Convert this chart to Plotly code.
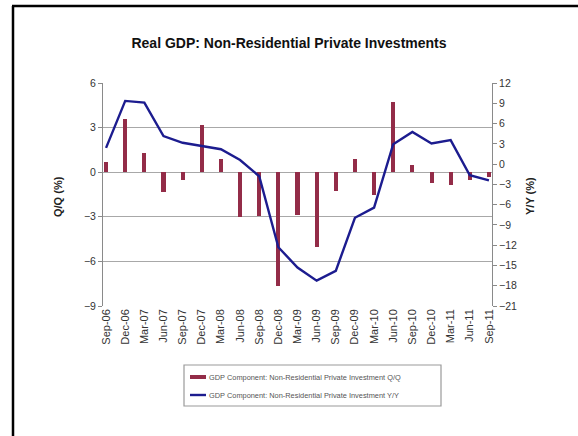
import plotly.graph_objects as go

# Quarter labels
quarters = ["Sep-06", "Dec-06", "Mar-07", "Jun-07", "Sep-07", "Dec-07", "Mar-08",
            "Jun-08", "Sep-08", "Dec-08", "Mar-09", "Jun-09", "Sep-09", "Dec-09",
            "Mar-10", "Jun-10", "Sep-10", "Dec-10", "Mar-11", "Jun-11", "Sep-11"]

# Quarter-on-quarter change (%), left axis
qoq = [0.7, 3.6, 1.3, -1.3, -0.5, 3.2, 0.9, -3.0, -2.95, -7.65, -2.9, -5.05,
       -1.25, 0.9, -1.5, 4.75, 0.5, -0.7, -0.85, -0.55, -0.35]

# Year-on-year change (%), right axis
yoy = [2.4, 9.35, 9.1, 4.15, 3.15, 2.65, 2.2, 0.6, -1.8, -12.3, -15.3, -17.25,
       -15.8, -7.95, -6.45, 2.95, 4.75, 3.05, 3.55, -1.65, -2.4]

q_ticks = [6, 3, 0, -3, -6, -9]
y_ticks = [12, 9, 6, 3, 0, -3, -6, -9, -12, -15, -18, -21]

QOQ_NAME = "GDP Component: Non-Residential Private Investment Q/Q"
YOY_NAME = "GDP Component: Non-Residential Private Investment Y/Y"

FONT = "Liberation Sans, Arial, sans-serif"
BAR_COLOR = "#932c48"
LINE_COLOR = "#1c1c8f"
GRID = "#a8a8a8"
AXIS = "#8a8a8a"

# plot-area geometry in pixels (used to place frame lines and labels)
W, H = 578, 436
L, R, T, B = 103, 492, 83, 306


def px(x):
    return (x - L) / (R - L)


def py(y):
    return (B - y) / (B - T)


fig = go.Figure()

fig.add_trace(go.Bar(
    x=list(range(len(quarters))), y=qoq,
    width=0.21,
    marker=dict(color=BAR_COLOR, line=dict(width=0)),
    name=QOQ_NAME,
    yaxis="y",
    showlegend=False,
))

fig.add_trace(go.Scatter(
    x=list(range(len(quarters))), y=yoy,
    mode="lines",
    line=dict(color=LINE_COLOR, width=2.4),
    name=YOY_NAME,
    yaxis="y2",
    showlegend=False,
))

fig.update_layout(
    width=W, height=H,
    margin=dict(l=L, r=W - R, t=T, b=H - B),
    paper_bgcolor="white", plot_bgcolor="white",
    font=dict(family=FONT, size=10, color="#333333"),
    bargap=0,
    title=dict(
        text="<b>Real GDP: Non-Residential Private Investments</b>",
        font=dict(family=FONT, size=14, color="#111111"),
        x=0.5, xanchor="center",
        y=1 - 43 / H, yanchor="middle",
    ),
    xaxis=dict(
        range=[-0.16, len(quarters) - 1 + 0.16],
        tickmode="array",
        tickvals=list(range(len(quarters))),
        ticktext=quarters,
        tickangle=-90,
        tickfont=dict(size=11, color="#333333"),
        showgrid=False, zeroline=False,
        showline=False,
        ticks="",
    ),
    yaxis=dict(
        range=[-9, 6],
        tickvals=q_ticks,
        tickfont=dict(size=10.5, color="#333333"),
        showgrid=True, gridcolor=GRID, gridwidth=1,
        zeroline=True, zerolinecolor=GRID, zerolinewidth=1,
        showline=True, linecolor=AXIS, linewidth=1,
        ticks="outside", ticklen=4, tickcolor=AXIS,
    ),
    yaxis2=dict(
        range=[-21, 12],
        tickvals=y_ticks,
        overlaying="y", side="right",
        tickfont=dict(size=10.5, color="#333333"),
        showgrid=False, zeroline=False,
        showline=True, linecolor=AXIS, linewidth=1,
        ticks="outside", ticklen=4, tickcolor=AXIS,
    ),
)

# axis titles
fig.add_annotation(
    text="<b>Q/Q (%)</b>", xref="paper", yref="paper",
    x=px(50), y=py(197), showarrow=False, textangle=-90,
    font=dict(family=FONT, size=11, color="#222222"),
)
fig.add_annotation(
    text="<b>Y/Y (%)</b>", xref="paper", yref="paper",
    x=px(538), y=py(196), showarrow=False, textangle=-90,
    font=dict(family=FONT, size=11, color="#222222"),
)

# legend: frame, keys and labels
fig.add_shape(
    type="rect", xref="paper", yref="paper",
    x0=px(184), x1=px(441), y0=py(406), y1=py(365),
    line=dict(color="#9a9a9a", width=1.2), fillcolor="rgba(0,0,0,0)",
)
fig.add_shape(
    type="rect", xref="paper", yref="paper",
    x0=px(190), x1=px(206), y0=py(379), y1=py(375),
    line=dict(width=0), fillcolor=BAR_COLOR,
)
fig.add_shape(
    type="line", xref="paper", yref="paper",
    x0=px(190), x1=px(206), y0=py(395), y1=py(395),
    line=dict(color=LINE_COLOR, width=2.4),
)
for label, ypix in [(QOQ_NAME, 377), (YOY_NAME, 395)]:
    fig.add_annotation(
        text=label, xref="paper", yref="paper",
        x=px(207), y=py(ypix), xanchor="left", yanchor="middle",
        showarrow=False,
        font=dict(family=FONT, size=7.4, color="#555555"),
    )

# outer frame: left and top edges
fig.add_shape(
    type="line", xref="paper", yref="paper",
    x0=px(13), x1=px(13), y0=py(6), y1=py(H + 5),
    line=dict(color="black", width=2.5),
)
fig.add_shape(
    type="line", xref="paper", yref="paper",
    x0=px(12), x1=px(W + 5), y0=py(6), y1=py(6),
    line=dict(color="black", width=2.5),
)

fig.write_html("out.html")
